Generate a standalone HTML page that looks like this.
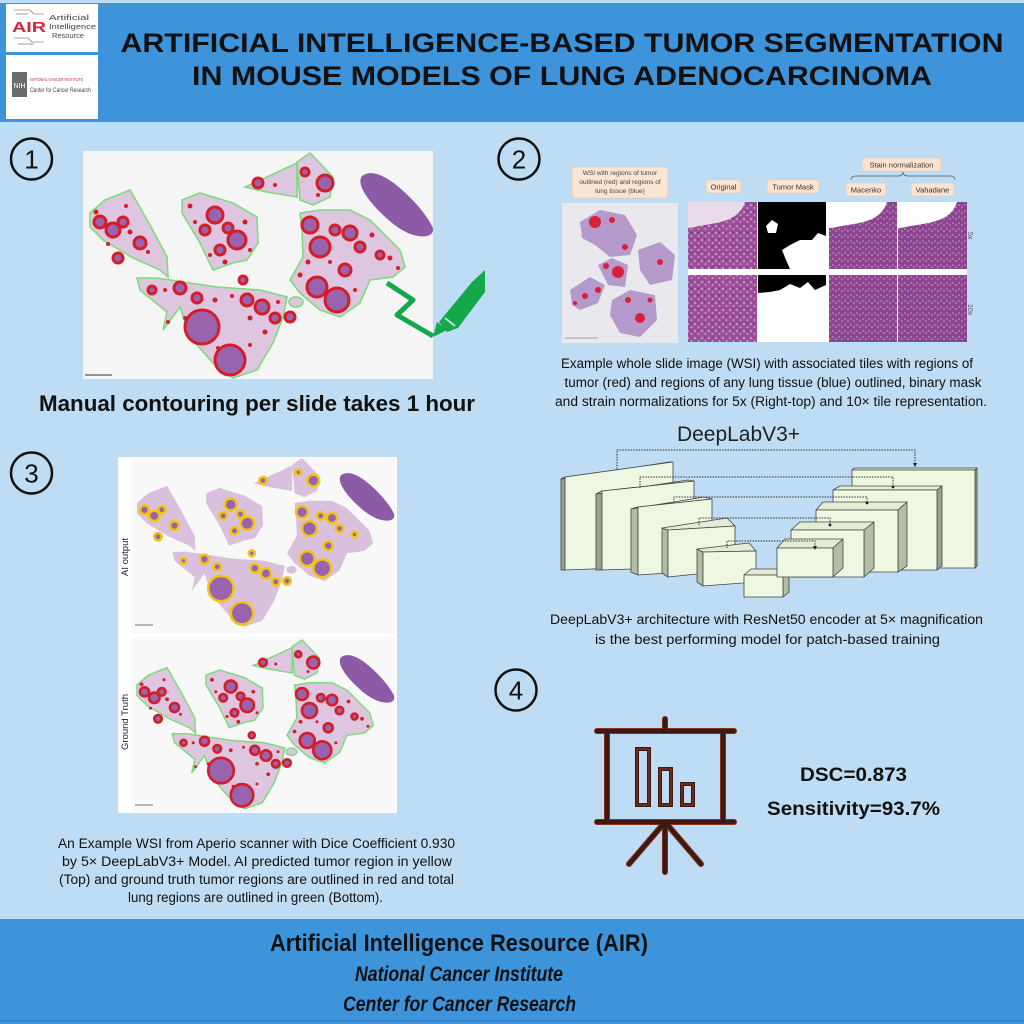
<!DOCTYPE html>
<html><head><meta charset="utf-8"><style>
html,body{margin:0;padding:0;background:#bedcf3;}
svg{display:block;}
text{font-family:"Liberation Sans",sans-serif;}
</style></head><body>
<svg width="1024" height="1024" viewBox="0 0 1024 1024" xmlns="http://www.w3.org/2000/svg">
<defs>
  <pattern id="he" width="7" height="7" patternUnits="userSpaceOnUse">
    <rect width="7" height="7" fill="#9a4f98"/>
    <circle cx="2" cy="2" r="1.3" fill="#c58cc4"/>
    <circle cx="5.5" cy="5" r="0.9" fill="#d8b0d6"/>
    <circle cx="5" cy="1.5" r="0.7" fill="#6e2d72"/>
  </pattern>
  <pattern id="he2" width="6" height="6" patternUnits="userSpaceOnUse">
    <rect width="6" height="6" fill="#8c4690"/>
    <circle cx="2" cy="3" r="1" fill="#b679b6"/>
    <circle cx="5" cy="1" r="0.8" fill="#c99ac8"/>
  </pattern>
  <g id="lobes">
    <path d="M90,213 L105,200 L130,190 L150,225 L167,257 L168,277 L160,270 L133,258 L103,240 L90,227 Z"/>
    <path d="M182,200 L200,193 L233,203 L257,217 L258,243 L247,260 L233,263 L213,270 L200,243 L182,213 Z"/>
    <path d="M245,187 L267,177 L297,163 L297,197 L267,192 Z"/>
    <path d="M297,162 L310,153 L333,177 L330,197 L313,205 L300,200 Z"/>
    <path d="M300,213 L320,210 L350,210 L370,220 L400,250 L405,267 L393,277 L370,280 L360,303 L340,317 L320,310 L300,293 L290,280 L303,257 L302,230 Z"/>
    <path d="M137,278 L157,278 L217,287 L260,290 L287,297 L283,317 L273,343 L257,370 L233,378 L213,363 L190,337 L180,307 L163,330 L167,312 L140,290 Z"/>
    <ellipse cx="296" cy="302" rx="7" ry="5"/>
  </g>
  <g id="tum">
    <circle cx="202" cy="327" r="17"/><circle cx="230" cy="360" r="15"/>
    <circle cx="237" cy="240" r="9"/><circle cx="317" cy="287" r="10"/>
    <circle cx="337" cy="300" r="12"/><circle cx="320" cy="247" r="10"/>
    <circle cx="113" cy="230" r="7"/><circle cx="100" cy="222" r="6"/>
    <circle cx="140" cy="243" r="6"/><circle cx="118" cy="258" r="5"/>
    <circle cx="215" cy="215" r="8"/><circle cx="205" cy="230" r="5"/>
    <circle cx="228" cy="228" r="5"/><circle cx="258" cy="183" r="5"/>
    <circle cx="325" cy="183" r="8"/><circle cx="305" cy="172" r="4"/>
    <circle cx="350" cy="233" r="7"/><circle cx="180" cy="288" r="6"/>
    <circle cx="197" cy="298" r="5"/><circle cx="247" cy="300" r="6"/>
    <circle cx="262" cy="307" r="7"/><circle cx="275" cy="318" r="5"/>
    <circle cx="152" cy="290" r="4"/><circle cx="360" cy="247" r="5"/>
    <circle cx="345" cy="270" r="6"/><circle cx="380" cy="255" r="4"/>
    <circle cx="310" cy="225" r="8"/><circle cx="123" cy="222" r="5"/>
    <circle cx="220" cy="250" r="5"/><circle cx="243" cy="280" r="4"/>
    <circle cx="290" cy="317" r="5"/><circle cx="335" cy="230" r="5"/>
  </g>
  <g id="dots">
    <circle cx="96" cy="212" r="2.5"/><circle cx="108" cy="244" r="2"/><circle cx="130" cy="232" r="2.5"/>
    <circle cx="148" cy="252" r="2"/><circle cx="126" cy="206" r="2"/><circle cx="190" cy="206" r="2.5"/>
    <circle cx="195" cy="222" r="2"/><circle cx="245" cy="222" r="2.5"/><circle cx="250" cy="250" r="2"/>
    <circle cx="225" cy="262" r="2.5"/><circle cx="210" cy="255" r="2"/><circle cx="275" cy="185" r="2"/>
    <circle cx="318" cy="195" r="2"/><circle cx="308" cy="262" r="2.5"/><circle cx="330" cy="262" r="2"/>
    <circle cx="372" cy="235" r="2.5"/><circle cx="390" cy="258" r="2.5"/><circle cx="398" cy="268" r="2"/>
    <circle cx="300" cy="275" r="2.5"/><circle cx="355" cy="290" r="2"/><circle cx="165" cy="290" r="2"/>
    <circle cx="215" cy="300" r="2.5"/><circle cx="232" cy="296" r="2"/><circle cx="250" cy="318" r="2.5"/>
    <circle cx="265" cy="332" r="2.5"/><circle cx="218" cy="348" r="2"/><circle cx="250" cy="345" r="2"/>
    <circle cx="185" cy="318" r="2"/><circle cx="168" cy="322" r="2"/><circle cx="278" cy="302" r="2"/>
  </g>
  <path id="spleen" d="M362,176 C370,170 382,174 395,184 C410,196 425,212 432,226 C436,234 428,238 418,236 C405,234 392,224 380,212 C368,200 356,184 362,176 Z"/>
</defs>

<!-- header -->
<rect x="0" y="0" width="1024" height="3" fill="#bedcf3"/>
<rect x="0" y="3" width="1024" height="119" fill="#3e94db"/>
<rect x="6" y="4" width="92" height="48" fill="#ffffff"/>
<rect x="6" y="55" width="92" height="64" fill="#ffffff"/>
<!-- AIR logo -->
<g stroke="#555" stroke-width="0.6" fill="none">
  <path d="M14,10 H30 L34,14 H44"/><path d="M16,14 H28"/><path d="M14,38 H28 L32,42 H44"/><path d="M18,44 H34"/>
</g>
<text x="12" y="32" font-size="15" font-weight="bold" fill="#d6283a" textLength="34" lengthAdjust="spacingAndGlyphs">AIR</text>
<text x="49" y="20" font-size="7.5" fill="#444" font-family="Liberation Mono" textLength="40" lengthAdjust="spacingAndGlyphs">Artificial</text>
<text x="49" y="29" font-size="7.5" fill="#444" font-family="Liberation Mono" textLength="47" lengthAdjust="spacingAndGlyphs">Intelligence</text>
<text x="52" y="38" font-size="7.5" fill="#444" font-family="Liberation Mono" textLength="32" lengthAdjust="spacingAndGlyphs">Resource</text>
<!-- NIH logo -->
<rect x="12" y="72" width="15" height="25" fill="#6b6b6b"/>
<text x="19.5" y="88" font-size="7" fill="#fff" text-anchor="middle">NIH</text>
<text x="30" y="81" font-size="4.5" fill="#c0282d" textLength="53" lengthAdjust="spacingAndGlyphs">NATIONAL CANCER INSTITUTE</text>
<text x="30" y="92" font-size="6" fill="#444" textLength="61" lengthAdjust="spacingAndGlyphs">Center for Cancer Research</text>
<!-- title -->
<text x="562" y="52" font-size="26.5" font-weight="bold" fill="#111" text-anchor="middle" textLength="883" lengthAdjust="spacingAndGlyphs">ARTIFICIAL INTELLIGENCE-BASED TUMOR SEGMENTATION</text>
<text x="562" y="85" font-size="26.5" font-weight="bold" fill="#111" text-anchor="middle" textLength="740" lengthAdjust="spacingAndGlyphs">IN MOUSE MODELS OF LUNG ADENOCARCINOMA</text>

<!-- numbered circles -->
<g fill="none" stroke="#111" stroke-width="2.5">
  <circle cx="31.5" cy="159" r="20.5"/><circle cx="519" cy="159" r="20.5"/>
  <circle cx="31.5" cy="473" r="20.5"/><circle cx="516" cy="690" r="20.5"/>
</g>
<g font-size="26" fill="#111" text-anchor="middle">
  <text x="31.5" y="168.5">1</text><text x="519" y="168.5">2</text>
  <text x="31.5" y="482.5">3</text><text x="516" y="699.5">4</text>
</g>

<!-- Section 1 image -->
<rect x="83" y="151" width="350" height="228" fill="#f6f5f6"/>
<use href="#lobes" fill="#dec6e0" stroke="#7edb7c" stroke-width="1.6"/>
<use href="#spleen" fill="#8d5aa5"/>
<use href="#dots" fill="#d41d27"/>
<use href="#tum" fill="#9a63ad" stroke="#d41d27" stroke-width="3"/>
<line x1="85" y1="375" x2="112" y2="375" stroke="#333" stroke-width="1"/>
<!-- pen -->
<path d="M387,283 L413,300 L397,315 L433,336" fill="none" stroke="#15a84a" stroke-width="5" stroke-linejoin="round"/>
<polygon points="433,337 437,322 447,330" fill="#15a84a"/>
<polygon points="439,322 472,282 485,270 485,292 458,328 447,332" fill="#15a84a"/>
<line x1="445" y1="318" x2="455" y2="326" stroke="#bedcf3" stroke-width="2"/>
<text x="257" y="411" font-size="22" font-weight="bold" fill="#111" text-anchor="middle" textLength="436" lengthAdjust="spacingAndGlyphs">Manual contouring per slide takes 1 hour</text>

<!-- Section 2 figure -->
<rect x="572" y="167" width="96" height="31" rx="4" fill="#fbe4d2" stroke="#e6c6ad" stroke-width="0.6"/>
<g font-size="6.5" fill="#444" text-anchor="middle">
  <text x="620" y="175">WSI with regions of tumor</text>
  <text x="620" y="184">outlined (red) and regions of</text>
  <text x="620" y="193">lung tissue (blue)</text>
</g>
<rect x="562" y="203" width="116" height="140" fill="#e9e8ec"/>
<g fill="#b59acb">
  <path d="M580,222 L600,210 L625,215 L637,235 L630,255 L610,257 L595,245 L582,238 Z"/>
  <path d="M638,250 L660,242 L675,255 L672,280 L650,285 L640,270 Z"/>
  <path d="M598,265 L612,258 L628,265 L625,287 L608,285 Z"/>
  <path d="M570,290 L590,277 L605,285 L598,303 L580,310 L572,305 Z"/>
  <path d="M612,300 L630,290 L655,295 L657,320 L640,337 L620,333 L610,315 Z"/>
</g>
<g fill="#d8203a">
  <circle cx="595" cy="222" r="6"/><circle cx="612" cy="220" r="3"/><circle cx="625" cy="247" r="3"/>
  <circle cx="618" cy="272" r="6"/><circle cx="606" cy="266" r="3"/><circle cx="660" cy="262" r="3"/>
  <circle cx="585" cy="296" r="3"/><circle cx="598" cy="290" r="3"/><circle cx="640" cy="318" r="5"/>
  <circle cx="628" cy="300" r="3"/><circle cx="650" cy="300" r="2.5"/><circle cx="575" cy="303" r="2"/>
</g>
<line x1="565" y1="338" x2="598" y2="338" stroke="#555" stroke-width="0.6"/>

<rect x="688" y="202" width="279" height="140" fill="#ffffff"/>
<!-- row1 -->
<rect x="688" y="202" width="69" height="67" fill="url(#he)"/>
<path d="M688,202 H745 C740,218 725,222 705,225 C698,226 692,228 688,228 Z" fill="#eadbe8"/>
<rect x="758" y="202" width="68" height="67" fill="#000"/>
<path d="M782,250 L790,245 L800,240 L812,240 L818,233 L826,236 L826,269 L790,269 L786,260 Z" fill="#fff"/>
<path d="M766,226 L772,220 L778,224 L776,233 L768,233 Z" fill="#fff"/>
<rect x="829" y="202" width="68" height="67" fill="url(#he2)"/>
<path d="M829,202 H887 C882,218 868,222 848,225 C840,226 834,228 829,228 Z" fill="#ffffff"/>
<rect x="898" y="202" width="69" height="67" fill="url(#he2)"/>
<path d="M898,202 H957 C952,218 937,222 917,225 C909,226 903,228 898,228 Z" fill="#ffffff"/>
<!-- row2 -->
<rect x="688" y="275" width="69" height="67" fill="url(#he)"/>
<rect x="758" y="275" width="68" height="67" fill="#fff"/>
<path d="M758,275 H826 V285 L815,290 L808,282 L800,288 L790,284 L780,290 L770,292 L758,293 Z" fill="#000"/>
<rect x="829" y="275" width="68" height="67" fill="url(#he2)"/>
<rect x="898" y="275" width="69" height="67" fill="url(#he2)"/>
<!-- labels -->
<g fill="#fbe4d2" stroke="#e6c6ad" stroke-width="0.6">
  <rect x="706" y="180" width="35" height="13" rx="3"/>
  <rect x="767" y="180" width="52" height="13" rx="3"/>
  <rect x="846" y="183" width="40" height="13" rx="3"/>
  <rect x="911" y="183" width="43" height="13" rx="3"/>
  <rect x="862" y="158" width="79" height="13" rx="3"/>
</g>
<g font-size="7.5" fill="#333" text-anchor="middle">
  <text x="723.5" y="189.5">Original</text>
  <text x="793" y="189.5">Tumor Mask</text>
  <text x="866" y="192.5">Macenko</text>
  <text x="932.5" y="192.5">Vahadane</text>
  <text x="901.5" y="167.5">Stain normalization</text>
</g>
<path d="M851,180 Q851,176 856,176 L898,176 Q903,176 903,172 Q903,176 908,176 L950,176 Q955,176 955,180" fill="none" stroke="#555" stroke-width="0.7"/>
<text transform="translate(968,232) rotate(90)" font-size="7" fill="#555">5x</text>
<text transform="translate(968,304) rotate(90)" font-size="7" fill="#555">10x</text>

<!-- caption 2 -->
<g font-size="13.5" fill="#111" text-anchor="middle">
  <text x="767" y="368" textLength="412" lengthAdjust="spacingAndGlyphs">Example whole slide image (WSI) with associated tiles with regions of</text>
  <text x="773" y="387" textLength="417" lengthAdjust="spacingAndGlyphs">tumor (red) and regions of any lung tissue (blue) outlined, binary mask</text>
  <text x="771" y="406" textLength="432" lengthAdjust="spacingAndGlyphs">and strain normalizations for 5x (Right-top) and 10× tile representation.</text>
</g>

<!-- DeepLab -->
<text x="738.5" y="441" font-size="21" fill="#222" text-anchor="middle" font-family="DejaVu Sans" textLength="123" lengthAdjust="spacingAndGlyphs">DeepLabV3+</text>
<g stroke="#444" stroke-width="0.8" stroke-linejoin="round">
  <!-- E1 -->
  <polygon points="561,479 565,477 565,570 561,570" fill="#9aa38d"/>
  <polygon points="561,479 669,462 673,462 565,477" fill="#e3edd4"/>
  <polygon points="565,477 673,462 673,566 565,570" fill="#eef7e2"/>
  <!-- E2 -->
  <polygon points="596,494 602,491 602,570 596,570" fill="#9aa38d"/>
  <polygon points="596,494 688,480 694,481 602,491" fill="#e3edd4"/>
  <polygon points="602,491 694,481 694,567 602,570" fill="#eef7e2"/>
  <!-- E3 -->
  <polygon points="631,509 638,507 638,575 631,572" fill="#b3bca4"/>
  <polygon points="631,509 704,497 712,499 638,507" fill="#e3edd4"/>
  <polygon points="638,507 712,499 712,570 638,575" fill="#eef7e2"/>
  <!-- E4 -->
  <polygon points="662,528 668,530 668,577 662,573" fill="#b3bca4"/>
  <polygon points="662,528 727,518 735,526 668,530" fill="#e3edd4"/>
  <polygon points="668,530 735,526 735,570 668,577" fill="#eef7e2"/>
  <!-- E5 -->
  <polygon points="697,549 703,552 703,586 697,582" fill="#b3bca4"/>
  <polygon points="697,549 749,543 756,551 703,552" fill="#e3edd4"/>
  <polygon points="703,552 756,551 756,582 703,586" fill="#eef7e2"/>
  <!-- bottom -->
  <polygon points="744,575 751,569 789,569 783,575" fill="#e3edd4"/>
  <polygon points="783,575 789,569 789,592 783,597" fill="#b3bca4"/>
  <rect x="744" y="575" width="39" height="22" fill="#eef7e2"/>
  <!-- D1 -->
  <polygon points="852,470 854,468 977,468 975,470" fill="#e3edd4"/>
  <polygon points="975,470 977,468 977,566 975,568" fill="#9aa38d"/>
  <rect x="852" y="470" width="123" height="98" fill="#eef7e2"/>
  <!-- D2 -->
  <polygon points="833,490 840,486 942,486 937,490" fill="#e3edd4"/>
  <polygon points="937,490 942,486 942,566 937,570" fill="#9aa38d"/>
  <rect x="833" y="490" width="104" height="80" fill="#eef7e2"/>
  <!-- D3 -->
  <polygon points="816,510 823,502 907,502 898,510" fill="#e3edd4"/>
  <polygon points="898,510 907,502 907,566 898,572" fill="#b3bca4"/>
  <rect x="816" y="510" width="82" height="62" fill="#eef7e2"/>
  <!-- D4 -->
  <polygon points="791,530 800,522 874,522 864,530" fill="#e3edd4"/>
  <polygon points="864,530 874,522 874,568 864,577" fill="#b3bca4"/>
  <rect x="791" y="530" width="73" height="47" fill="#eef7e2"/>
  <!-- D5 -->
  <polygon points="777,548 785,539 843,539 833,548" fill="#e3edd4"/>
  <polygon points="833,548 843,539 843,568 833,577" fill="#b3bca4"/>
  <rect x="777" y="548" width="56" height="29" fill="#eef7e2"/>
</g>
<g fill="none" stroke="#333" stroke-width="1" stroke-dasharray="1.5,1.2">
  <path d="M617,469 V450 H915 V464"/>
  <path d="M640,488 V477 H893 V485"/>
  <path d="M674,503 V497 H867 V502"/>
  <path d="M699,525 V518 H830 V524"/>
  <path d="M727,548 V541 H815 V547"/>
</g>
<g fill="#222">
  <polygon points="913,463 917,463 915,467"/><circle cx="893" cy="487" r="1.4"/>
  <circle cx="867" cy="503" r="1.4"/><circle cx="830" cy="525" r="1.4"/>
  <polygon points="813,546 817,546 815,550"/>
</g>
<g font-size="13.5" fill="#111" text-anchor="middle">
  <text x="766.5" y="624" textLength="433" lengthAdjust="spacingAndGlyphs">DeepLabV3+ architecture with ResNet50 encoder at 5× magnification</text>
  <text x="767.5" y="644" textLength="345" lengthAdjust="spacingAndGlyphs">is the best performing model for patch-based training</text>
</g>

<!-- Section 3 figure -->
<rect x="118" y="457" width="279" height="356" fill="#ffffff"/>
<rect x="132" y="458" width="263" height="176" fill="#f8f8f8"/>
<rect x="132" y="637" width="263" height="175" fill="#f8f8f8"/>
<g transform="translate(69.5,343.25) scale(0.75)">
  <use href="#lobes" fill="#d9c1de"/>
  <use href="#spleen" fill="#8d5aa5"/>
  <use href="#tum" fill="#9a63ad" stroke="#f0c419" stroke-width="3.5"/>
</g>
<g transform="translate(69.5,525.25) scale(0.75)">
  <use href="#lobes" fill="#dec6e0" stroke="#7edb7c" stroke-width="2"/>
  <use href="#spleen" fill="#8d5aa5"/>
  <use href="#dots" fill="#d41d27"/>
  <use href="#tum" fill="#9a63ad" stroke="#d41d27" stroke-width="3.5"/>
</g>
<line x1="135" y1="625" x2="153" y2="625" stroke="#444" stroke-width="0.8"/>
<line x1="135" y1="805" x2="153" y2="805" stroke="#444" stroke-width="0.8"/>
<text transform="translate(128,557) rotate(-90)" font-size="9.5" fill="#222" text-anchor="middle">AI output</text>
<text transform="translate(128,722) rotate(-90)" font-size="9.5" fill="#222" text-anchor="middle">Ground Truth</text>
<g font-size="13.5" fill="#111" text-anchor="middle">
  <text x="256.5" y="848" textLength="397" lengthAdjust="spacingAndGlyphs">An Example WSI from Aperio scanner with Dice Coefficient 0.930</text>
  <text x="257" y="866" textLength="390" lengthAdjust="spacingAndGlyphs">by 5× DeepLabV3+ Model. AI predicted tumor region in yellow</text>
  <text x="256.5" y="884" textLength="395" lengthAdjust="spacingAndGlyphs">(Top) and ground truth tumor regions are outlined in red and total</text>
  <text x="255.5" y="902" textLength="255" lengthAdjust="spacingAndGlyphs">lung regions are outlined in green (Bottom).</text>
</g>

<!-- Section 4 -->
<g fill="none" stroke-linecap="round">
  <g stroke="#8a2e1e" stroke-width="6">
    <line x1="665" y1="719" x2="665" y2="731"/>
    <line x1="597" y1="731" x2="734" y2="731"/>
    <line x1="607" y1="731" x2="607" y2="822"/>
    <line x1="723" y1="731" x2="723" y2="822"/>
    <line x1="597" y1="822" x2="734" y2="822"/>
    <line x1="665" y1="822" x2="629" y2="864"/>
    <line x1="665" y1="822" x2="701" y2="864"/>
    <line x1="665" y1="822" x2="665" y2="872"/>
  </g>
  <g stroke="#3b1a12" stroke-width="4">
    <line x1="665" y1="719" x2="665" y2="731"/>
    <line x1="597" y1="731" x2="734" y2="731"/>
    <line x1="607" y1="731" x2="607" y2="822"/>
    <line x1="723" y1="731" x2="723" y2="822"/>
    <line x1="597" y1="822" x2="734" y2="822"/>
    <line x1="665" y1="822" x2="629" y2="864"/>
    <line x1="665" y1="822" x2="701" y2="864"/>
    <line x1="665" y1="822" x2="665" y2="872"/>
  </g>
</g>
<g fill="none" stroke="#3b1a12" stroke-width="4">
  <rect x="637" y="749" width="12" height="56"/>
  <rect x="660" y="769" width="11" height="36"/>
  <rect x="682" y="784" width="11" height="21"/>
</g>
<g fill="none" stroke="#9a3a26" stroke-width="1">
  <rect x="637" y="749" width="12" height="56"/>
  <rect x="660" y="769" width="11" height="36"/>
  <rect x="682" y="784" width="11" height="21"/>
</g>
<text x="853.5" y="781" font-size="19.5" font-weight="bold" fill="#111" text-anchor="middle" textLength="107" lengthAdjust="spacingAndGlyphs">DSC=0.873</text>
<text x="853.5" y="815" font-size="19.5" font-weight="bold" fill="#111" text-anchor="middle" textLength="173" lengthAdjust="spacingAndGlyphs">Sensitivity=93.7%</text>

<!-- footer -->
<rect x="0" y="919" width="1024" height="105" fill="#3e94db"/>
<rect x="0" y="1020" width="1024" height="2" fill="#3786cb"/>
<text x="459" y="951" font-size="24" font-weight="bold" fill="#111" text-anchor="middle" textLength="378" lengthAdjust="spacingAndGlyphs">Artificial Intelligence Resource (AIR)</text>
<text x="459" y="981" font-size="21" font-weight="bold" font-style="italic" fill="#111" text-anchor="middle" textLength="208" lengthAdjust="spacingAndGlyphs">National Cancer Institute</text>
<text x="459.5" y="1011" font-size="21" font-weight="bold" font-style="italic" fill="#111" text-anchor="middle" textLength="233" lengthAdjust="spacingAndGlyphs">Center for Cancer Research</text>
</svg>
</body></html>
